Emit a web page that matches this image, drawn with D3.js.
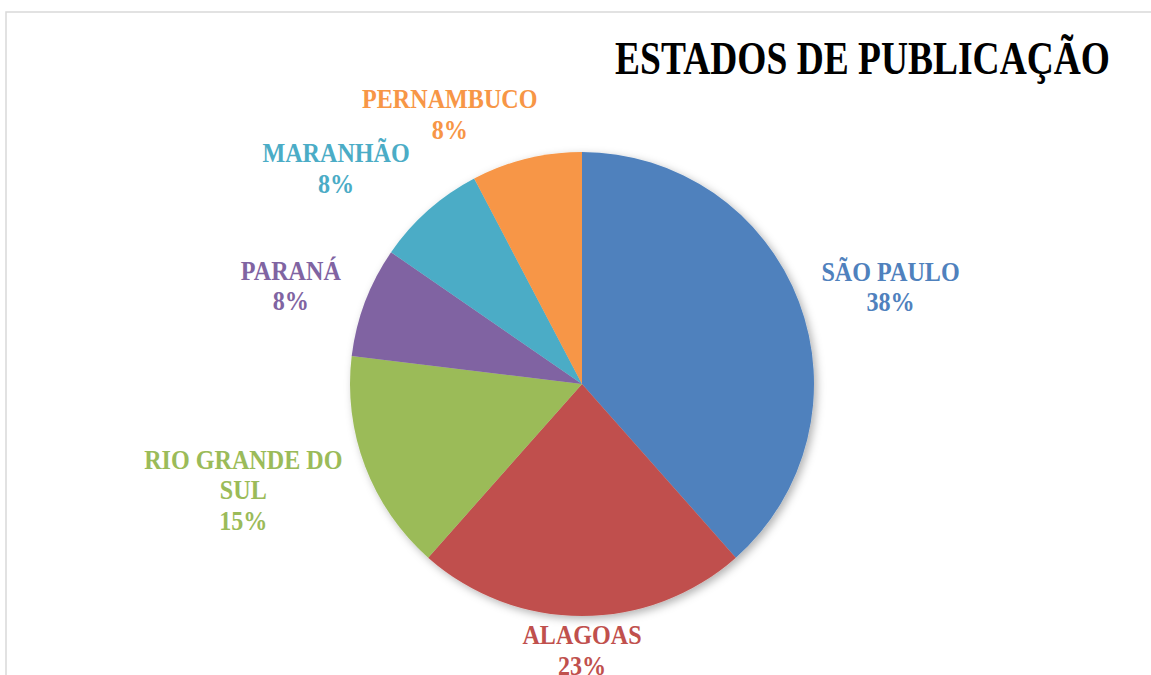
<!DOCTYPE html>
<html><head><meta charset="utf-8">
<script src="https://cdn.jsdelivr.net/npm/d3@7"></script>
<style>html,body{margin:0;padding:0;background:#fff;overflow:hidden}</style>
</head><body>
<svg id="chart" width="1151" height="675"></svg>
<script>
// ---- data ----
const categories = ["SÃO PAULO", "ALAGOAS", "RIO GRANDE DO SUL", "PARANÁ", "MARANHÃO", "PERNAMBUCO"];
const labelLines = [["SÃO PAULO"], ["ALAGOAS"], ["RIO GRANDE DO", "SUL"], ["PARANÁ"], ["MARANHÃO"], ["PERNAMBUCO"]];
const counts = [5, 3, 2, 1, 1, 1];
const colors = ["#4F81BD", "#C0504D", "#9BBB59", "#8064A2", "#4BACC6", "#F79646"];
const title = "ESTADOS DE PUBLICAÇÃO";
// label anchor offsets from pie centre, in units of radius (layout only)
const labelOffset = [[1.33, -0.445], [0, 1.12], [-1.46, 0.365], [-1.255, -0.45], [-1.06, -0.955], [-0.57, -1.19]];

const W = 1151, H = 675;
const cx = 582, cy = 384, R = 232;
const svg = d3.select("#chart");
const FONT = "'Liberation Serif', 'Times New Roman', serif";
const labelSqueeze = 0.91;

// frame
svg.append("rect").attr("x", 6).attr("y", 12).attr("width", 1300).attr("height", 800)
  .attr("fill", "none").attr("stroke", "#d9d9d9").attr("stroke-width", 1.5);

const defs = svg.append("defs");
const f = defs.append("filter").attr("id", "sh").attr("x", "-20%").attr("y", "-20%").attr("width", "140%").attr("height", "140%");
f.append("feDropShadow").attr("dx", 3).attr("dy", 3).attr("stdDeviation", 4)
  .attr("flood-color", "#000").attr("flood-opacity", 0.3);

const total = d3.sum(counts);
const pie = d3.pie().sort(null).value(d => d)(counts);
const arc = d3.arc().innerRadius(0).outerRadius(R);

const g = svg.append("g").attr("transform", `translate(${cx},${cy})`);
g.append("g").attr("filter", "url(#sh)")
  .selectAll("path").data(pie).join("path")
  .attr("d", arc).attr("fill", (d, i) => colors[i]);

// labels
const lg = g.append("g");
pie.forEach((d, i) => {
  const pct = Math.round(counts[i] / total * 100) + "%";
  const lines = labelLines[i].concat([pct]);
  const lx = labelOffset[i][0] * R, ly = labelOffset[i][1] * R;
  const t = lg.append("text")
    .attr("transform", `translate(${lx},${ly}) scale(${labelSqueeze},1)`)
    .attr("text-anchor", "middle").attr("fill", colors[i])
    .style("font-family", FONT).style("font-weight", "bold").style("font-size", "26.5px");
  lines.forEach((ln, k) => {
    t.append("tspan").attr("x", 0).attr("dy", k === 0 ? 0 : 30.7).text(ln);
  });
});

// title
const tt = svg.append("text").attr("text-anchor", "end").attr("fill", "#000")
  .style("font-family", FONT).style("font-weight", "bold").style("font-size", "47px")
  .text(title);
const natural = tt.node().getComputedTextLength();
const k = 495 / natural;
tt.attr("transform", `translate(1110,73.5) scale(${k},1)`);
</script>
</body></html>
